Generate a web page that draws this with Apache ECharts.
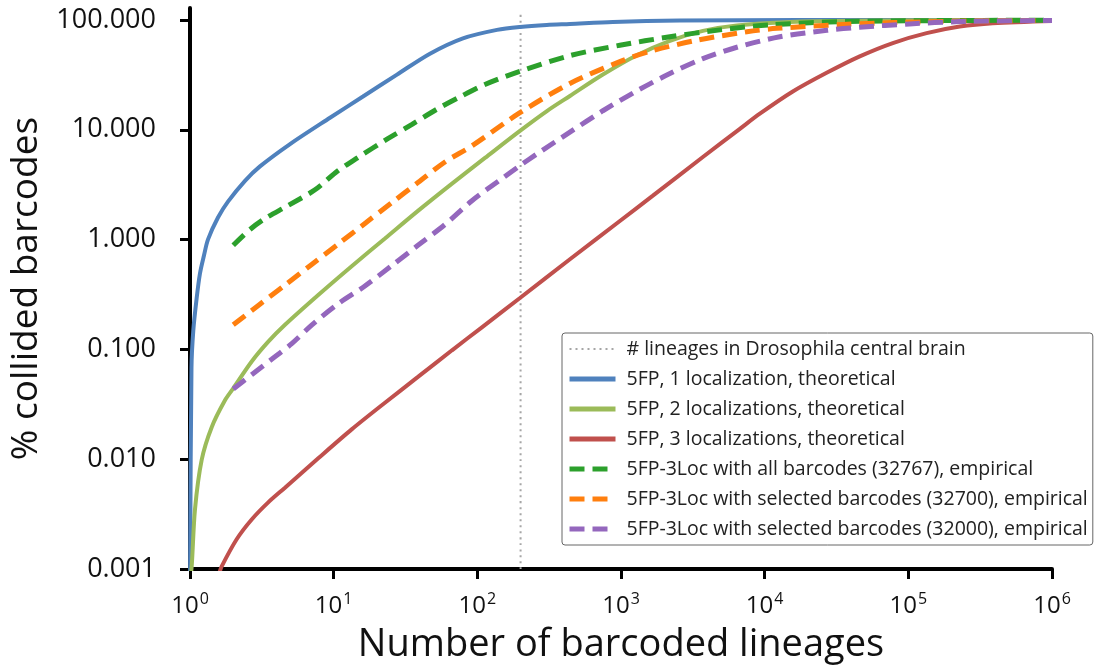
<!DOCTYPE html>
<html>
<head>
<meta charset="UTF-8">
<title>Collided barcodes</title>
<script src="https://cdn.jsdelivr.net/npm/echarts@6/dist/echarts.min.js"></script>
<style>
  html, body { margin: 0; padding: 0; background: #fff; }
  #main { width: 1096px; height: 669px; }
</style>
</head>
<body>
<div id="main"></div>
<script type="text/javascript">
// tick values
var xTicks = [1, 10, 100, 1000, 10000, 100000, 1000000];
var yTicks = [0.001, 0.01, 0.1, 1, 10, 100];

// vertical reference: lineages in Drosophila central brain
var lineageX = [200, 200];
var lineageY = [0.001, 120];

// 5FP, 1 localization, theoretical
var oneLocX = [1.001, 1.024, 1.054, 1.113, 1.174, 1.252, 1.335, 1.566, 1.838, 2.414, 3.07, 4.97, 9.43, 16.0, 27.6, 46.8, 79.4, 137, 198, 304, 441, 878, 2570, 17600, 1000000];
var oneLocY = [0.0008, 0.0684, 0.148, 0.294, 0.494, 0.72, 1.005, 1.588, 2.215, 3.43, 4.64, 7.41, 12.87, 20.1, 31.8, 49.3, 68.0, 81.2, 86.4, 90.1, 92.0, 95.9, 98.6, 99.7, 100];

// 5FP, 2 localizations, theoretical
var twoLocX = [1.001, 1.0276, 1.083, 1.206, 1.416, 1.752, 2.0, 2.688, 3.507, 4.583, 7.81, 13.35, 22.75, 38.8, 66.3, 113, 198, 305, 441, 748, 1290, 2190, 3715, 6410, 14960, 39170, 1000000];
var twoLocY = [0.0008, 0.00106, 0.00349, 0.00988, 0.0196, 0.0344, 0.0442, 0.0776, 0.1176, 0.1676, 0.313, 0.5724, 1.025, 1.837, 3.22, 5.54, 9.77, 14.8, 20.3, 31.8, 47.7, 64.6, 79.5, 89.2, 95.9, 98.5, 100];

// 5FP, 3 localizations, theoretical
var threeLocX = [1.6, 1.662, 2.113, 2.688, 3.49, 4.583, 7.81, 13.41, 22.75, 38.6, 66.6, 107.6, 198, 441, 982, 1667, 3715, 6720, 9260, 15700, 27000, 45900, 78000, 134000, 228000, 387000, 1000000];
var threeLocY = [0.00092, 0.00106, 0.00187, 0.00283, 0.00403, 0.00551, 0.0102, 0.0188, 0.0327, 0.0562, 0.0982, 0.159, 0.294, 0.662, 1.476, 2.51, 5.65, 10.2, 14.0, 22.3, 33.0, 46.6, 61.6, 75.8, 87.0, 93.3, 98];

// 5FP-3Loc with all barcodes (32767), empirical
var allBcX = [2, 2.616, 3.326, 4.81, 7.41, 10.7, 14.76, 23.5, 35.1, 52.4, 75.7, 113, 198, 441, 982, 2190, 4880, 10870, 39170, 1000000];
var allBcY = [0.887, 1.236, 1.555, 2.04, 2.84, 4.23, 5.59, 8.22, 11.2, 15.4, 19.9, 25.8, 34.1, 47.3, 58.8, 70.2, 81.2, 90.1, 96.9, 99.4];

// 5FP-3Loc with selected barcodes (32700), empirical
var sel32700X = [2, 2.988, 4.583, 7.03, 10.77, 16.5, 25.3, 38.8, 59.5, 91.3, 198, 441, 982, 1589, 3375, 7520, 12160, 35000, 78000, 228000, 1000000];
var sel32700Y = [0.1675, 0.2515, 0.3855, 0.593, 0.912, 1.404, 2.16, 3.32, 5.09, 7.11, 14.3, 26.4, 41.7, 51.7, 65.3, 77.9, 83.8, 91.0, 94.5, 97.5, 99];

// 5FP-3Loc with selected barcodes (32000), empirical
var sel32000X = [2, 2.70, 3.72, 5.13, 7.06, 10.7, 16.5, 25.4, 38.6, 59.5, 91.7, 150.8, 198, 260, 441, 748, 1290, 2190, 3715, 6405, 12760, 27100, 45900, 102000, 228000, 1000000];
var sel32000Y = [0.0436, 0.0592, 0.0818, 0.1135, 0.1675, 0.2594, 0.3776, 0.5808, 0.887, 1.372, 2.26, 3.65, 4.72, 6.02, 9.51, 14.9, 22.6, 32.5, 44.4, 56.4, 70.2, 80.4, 85.9, 92.0, 96.5, 99];

var seriesNames = [
    '# lineages in Drosophila central brain',
    '5FP, 1 localization, theoretical',
    '5FP, 2 localizations, theoretical',
    '5FP, 3 localizations, theoretical',
    '5FP-3Loc with all barcodes (32767), empirical',
    '5FP-3Loc with selected barcodes (32700), empirical',
    '5FP-3Loc with selected barcodes (32000), empirical'
];

function pairs(xs, ys) {
    var out = [];
    for (var i = 0; i < xs.length; i++) out.push([xs[i], ys[i]]);
    return out;
}

function curve(name, xs, ys, color, width, type) {
    return {
        name: name,
        type: 'line',
        data: pairs(xs, ys),
        symbol: 'none',
        smooth: 0.3,
        lineStyle: { color: color, width: width, type: type },
        itemStyle: { color: color },
        emphasis: { disabled: true }
    };
}

var myChart = echarts.init(document.getElementById('main'));
var font = '"Open Sans", "Noto Sans", sans-serif';

myChart.setOption({
    animation: false,
    textStyle: { fontFamily: font },
    // axis line runs a little past the 100 tick, as in the original
    grid: { left: 190, right: 44, top: 8, bottom: 96 },
    legend: {
        orient: 'vertical',
        left: 562,
        top: 333,
        padding: [6, 5, 6, 5],
        itemGap: 10,
        itemWidth: 46,
        itemHeight: 14,
        borderColor: '#666',
        borderWidth: 1,
        borderRadius: 3,
        backgroundColor: '#fff',
        itemStyle: { opacity: 0 },
        textStyle: { fontFamily: font, fontSize: 19.5, color: '#222', lineHeight: 20, padding: [0, 0, 0, 6] },
        data: seriesNames.map(function (n, i) {
            return { name: n, lineStyle: { width: i === 0 ? 2 : 5 } };
        })
    },
    xAxis: {
        type: 'log',
        logBase: 10,
        min: 1,
        max: 1000000,
        name: 'Number of barcoded lineages',
        nameLocation: 'middle',
        nameGap: 50,
        nameTextStyle: { fontFamily: font, fontSize: 38, color: '#111' },
        axisLine: { lineStyle: { color: '#000', width: 4 } },
        axisTick: { show: true, length: 10, customValues: xTicks, lineStyle: { color: '#000', width: 3 } },
        minorTick: { show: false },
        splitLine: { show: false },
        axisLabel: {
            margin: 22,
            customValues: xTicks,
            formatter: function (v) {
                return '{b|10}{s|' + Math.round(Math.log10(v)) + '}';
            },
            rich: {
                b: { fontFamily: font, fontSize: 24, color: '#111', lineHeight: 30 },
                s: { fontFamily: font, fontSize: 16, color: '#111', lineHeight: 30, padding: [0, 0, 14, 1] }
            }
        }
    },
    yAxis: {
        type: 'log',
        logBase: 10,
        min: 0.001,
        max: 128.4,
        name: '% collided barcodes',
        nameLocation: 'middle',
        nameRotate: 90,
        nameGap: 127,
        nameTextStyle: { fontFamily: font, fontSize: 37, color: '#111' },
        axisLine: { show: true, lineStyle: { color: '#000', width: 4 } },
        axisTick: { show: true, length: 10, customValues: yTicks, lineStyle: { color: '#000', width: 3 } },
        splitLine: { show: false },
        axisLabel: {
            margin: 34,
            customValues: yTicks,
            fontFamily: font,
            fontSize: 27,
            color: '#111',
            formatter: function (v) { return v.toFixed(3); }
        }
    },
    series: [
        curve(seriesNames[0], lineageX, lineageY, '#a6a6a6', 2, [2, 4]),
        curve(seriesNames[1], oneLocX, oneLocY, '#4f81bd', 4, 'solid'),
        curve(seriesNames[2], twoLocX, twoLocY, '#9bbb59', 4, 'solid'),
        curve(seriesNames[3], threeLocX, threeLocY, '#c0504d', 4, 'solid'),
        curve(seriesNames[4], allBcX, allBcY, '#2ca02c', 5, [15, 8]),
        curve(seriesNames[5], sel32700X, sel32700Y, '#ff7f0e', 5, [15, 8]),
        curve(seriesNames[6], sel32000X, sel32000Y, '#9467bd', 5, [15, 8])
    ]
});
</script>
</body>
</html>
